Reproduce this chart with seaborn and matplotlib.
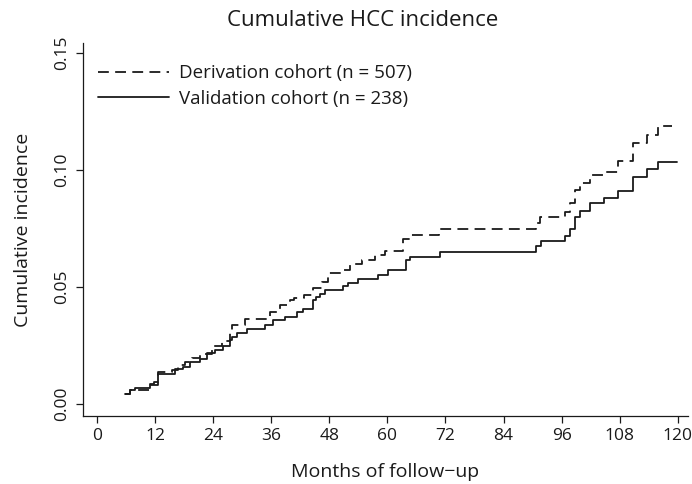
import matplotlib
matplotlib.use("Agg")
import matplotlib.pyplot as plt
import seaborn as sns
import pandas as pd

# Derivation cohort (dashed) step points: months, cumulative incidence
deriv_months = [5.8, 6.8, 10.9, 12.6, 15.5, 16.7, 18.2, 19.6, 21.3, 23.7, 25.8, 27.5, 27.9,
                30.6, 35.7, 37.8, 39.9, 40.7, 42.8, 44.6, 46.5, 47.7, 50.6, 52.3, 54.7,
                57.4, 59.5, 63.2, 64.6, 70.6, 90.7, 91.5, 96.7, 97.7, 98.7, 99.8, 101.8,
                104.5, 107.6, 110.7, 113.6, 115.9, 118.8]
deriv_inc = [0.0043, 0.0060, 0.0081, 0.0137, 0.0145, 0.0167, 0.0180, 0.0196, 0.0214, 0.0248,
             0.0269, 0.0307, 0.0337, 0.0363, 0.0393, 0.0423, 0.0444, 0.0453, 0.0466, 0.0496,
             0.0521, 0.0560, 0.0573, 0.0598, 0.0615, 0.0637, 0.0654, 0.0705, 0.0722, 0.0748,
             0.0773, 0.0800, 0.0820, 0.0860, 0.0915, 0.0944, 0.0980, 0.0990, 0.1040, 0.1115,
             0.1150, 0.1188, 0.1188]

# Validation cohort (solid)
valid_months = [5.8, 6.8, 7.8, 10.9, 11.8, 12.6, 16.1, 17.8, 19.2, 21.3, 22.7, 24.4, 26.0,
                27.5, 27.9, 28.9, 31.0, 34.7, 36.3, 38.8, 41.3, 42.5, 44.6, 45.2, 46.1, 47.1,
                50.8, 51.8, 53.9, 58.0, 60.1, 63.8, 64.6, 70.8, 90.7, 91.7, 96.7, 97.7, 98.7,
                99.8, 101.8, 104.7, 107.6, 110.7, 113.6, 115.9, 119.8]
valid_inc = [0.0043, 0.0060, 0.0068, 0.0085, 0.0094, 0.0128, 0.0150, 0.0160, 0.0180, 0.0192,
             0.0218, 0.0230, 0.0248, 0.0273, 0.0286, 0.0303, 0.0320, 0.0337, 0.0359, 0.0371,
             0.0393, 0.0406, 0.0444, 0.0457, 0.0470, 0.0487, 0.0504, 0.0517, 0.0534, 0.0551,
             0.0572, 0.0615, 0.0628, 0.0650, 0.0675, 0.0697, 0.0718, 0.0748, 0.0800, 0.0825,
             0.0860, 0.0880, 0.0910, 0.0970, 0.1004, 0.1034, 0.1034]

labels = ["Derivation cohort (n = 507)", "Validation cohort (n = 238)"]
x_ticks = [0, 12, 24, 36, 48, 60, 72, 84, 96, 108, 120]
y_ticks = [0.00, 0.05, 0.10, 0.15]
y_ticklabels = ["0.00", "0.05", "0.10", "0.15"]

sns.set_theme(style="ticks")
plt.rcParams['font.family'] = ['Open Sans', 'DejaVu Sans']
txt = "#1a1a1a"

fig = plt.figure(figsize=(6.92, 4.84), dpi=100)
ax = fig.add_axes([0.12, 0.1405, 0.874, 0.7705])

d1 = pd.DataFrame({"month": deriv_months, "inc": deriv_inc})
d2 = pd.DataFrame({"month": valid_months, "inc": valid_inc})
sns.lineplot(data=d1, x="month", y="inc", ax=ax, color=txt, lw=1.3,
             drawstyle="steps-post", label=labels[0],
             linestyle=(0, (6, 3.5)))
sns.lineplot(data=d2, x="month", y="inc", ax=ax, color=txt, lw=1.3,
             drawstyle="steps-post", label=labels[1])

ax.set_xlim(-2.9, 122.1)
ax.set_ylim(-0.0051, 0.1543)
ax.set_xticks(x_ticks)
ax.set_xticklabels([str(t) for t in x_ticks], fontsize=12.5, color=txt)
ax.set_yticks(y_ticks)
ax.set_yticklabels(y_ticklabels, fontsize=12.5, color=txt, rotation=90, va="center")
ax.tick_params(direction="out", length=5, width=0.9, colors=txt, pad=4)
for s in ["top", "right"]:
    ax.spines[s].set_visible(False)
for s in ["left", "bottom"]:
    ax.spines[s].set_linewidth(0.9)
    ax.spines[s].set_color(txt)

ax.set_xlabel("Months of follow\u2212up", fontsize=14, color=txt, labelpad=13)
ax.set_ylabel("Cumulative incidence", fontsize=14, color=txt, labelpad=16)
fig.text(363 / 692, 1 - 21 / 484, "Cumulative HCC incidence", fontsize=16,
         color=txt, ha="center", va="center")

leg = ax.legend(loc="upper left", frameon=False, fontsize=13.5, handlelength=3.8,
                handletextpad=0.5, labelspacing=0.4, bbox_to_anchor=(0.0248, 0.943),
                borderaxespad=0, borderpad=0)
for t in leg.get_texts():
    t.set_color(txt)

fig.savefig("out.png", dpi=100)
